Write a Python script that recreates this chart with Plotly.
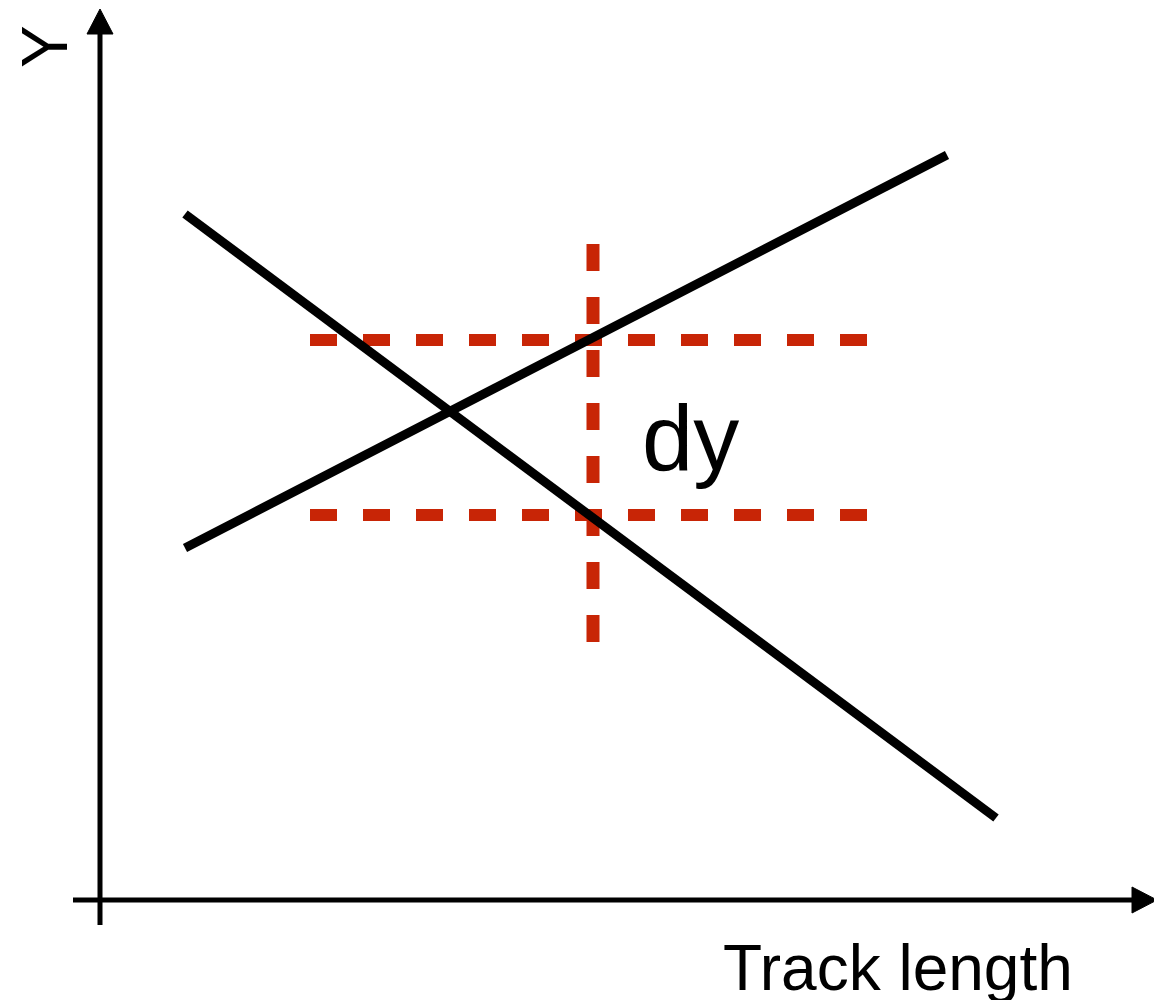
import plotly.graph_objects as go

# diagram units: origin where the two axes cross, y pointing up
rising_x = [85, 847]
rising_y = [352, 745]
falling_x = [85, 896]
falling_y = [686, 82]

dy_levels = [560, 385]
dy_span_x = [210, 772]
probe_x = 493
probe_span_y = [656, 257]

x_axis_span = [-27, 1032]
y_axis_span = [-25, 866]
x_tip = 1057
y_tip = 891
head_half = 13

RED = "#c82506"
FONT = "Liberation Sans, Arial, sans-serif"

fig = go.Figure()

# axes
fig.add_trace(go.Scatter(x=x_axis_span, y=[0, 0], mode="lines",
                         line=dict(color="black", width=5)))
fig.add_trace(go.Scatter(x=[0, 0], y=y_axis_span, mode="lines",
                         line=dict(color="black", width=5)))
fig.add_trace(go.Scatter(
    x=[x_axis_span[1], x_tip, x_axis_span[1], x_axis_span[1]],
    y=[head_half, 0, -head_half, head_half],
    mode="lines", fill="toself", fillcolor="black",
    line=dict(color="black", width=1)))
fig.add_trace(go.Scatter(
    x=[-head_half, 0, head_half, -head_half],
    y=[y_axis_span[1], y_tip, y_axis_span[1], y_axis_span[1]],
    mode="lines", fill="toself", fillcolor="black",
    line=dict(color="black", width=1)))

# red dashed guides
for lvl in dy_levels:
    fig.add_trace(go.Scatter(x=dy_span_x, y=[lvl, lvl], mode="lines",
                             line=dict(color=RED, width=12, dash="27px,26px")))
fig.add_trace(go.Scatter(x=[probe_x, probe_x], y=probe_span_y, mode="lines",
                         line=dict(color=RED, width=13, dash="27px,26px")))

# the two tracks
fig.add_trace(go.Scatter(x=rising_x, y=rising_y, mode="lines",
                         line=dict(color="black", width=9)))
fig.add_trace(go.Scatter(x=falling_x, y=falling_y, mode="lines",
                         line=dict(color="black", width=9)))

fig.add_annotation(x=590, y=462, text="dy", showarrow=False,
                   xanchor="center", yanchor="middle",
                   font=dict(family=FONT, size=92, color="black"))
fig.add_annotation(x=798, y=-68, text="Track length", showarrow=False,
                   xanchor="center", yanchor="middle",
                   font=dict(family=FONT, size=64, color="black"))
fig.add_annotation(x=-55, y=853, text="Y", showarrow=False, textangle=-90,
                   xanchor="center", yanchor="middle",
                   font=dict(family=FONT, size=64, color="black"))

# page body has an 8px margin, so ranges are shifted to keep the drawing in place
fig.update_layout(
    width=1162, height=1000,
    margin=dict(l=0, r=0, t=0, b=0),
    paper_bgcolor="white", plot_bgcolor="white",
    showlegend=False,
    xaxis=dict(range=[-92, 1070], visible=False, fixedrange=True),
    yaxis=dict(range=[-108, 892], visible=False, fixedrange=True),
)

fig.write_html("out.html", config={"displayModeBar": False})
